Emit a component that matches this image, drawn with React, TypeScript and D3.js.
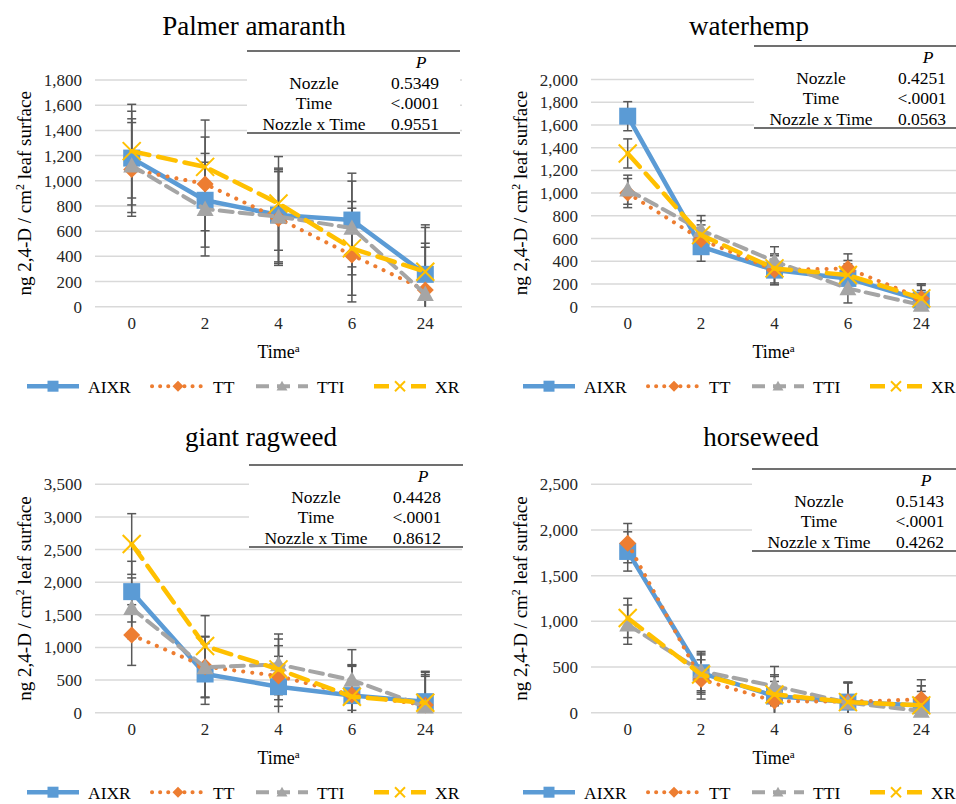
import React from "react";
import * as d3 from "d3";

// ---------- data ----------
const TIMES = ["0", "2", "4", "6", "24"];
const NOZZLES = ["AIXR", "TT", "TTI", "XR"];
const EFFECTS = ["Nozzle", "Time", "Nozzle x Time"];

const PALMER_AIXR = [1180, 845, 728, 688, 257];
const PALMER_TT = [1090, 975, 700, 410, 132];
const PALMER_TTI = [1120, 775, 715, 625, 100];
const PALMER_XR = [1235, 1110, 820, 463, 278];
const PALMER_ERR = [372, 372, 372, 372, 372];
const PALMER_P = ["0.5349", "<.0001", "0.9551"];
const PALMER_TICKS = [0, 200, 400, 600, 800, 1000, 1200, 1400, 1600, 1800];

const WATER_AIXR = [1677, 528, 322, 249, 59];
const WATER_TT = [1000, 592, 322, 337, 73];
const WATER_TTI = [1030, 674, 400, 161, 15];
const WATER_XR = [1349, 630, 337, 279, 73];
const WATER_ERR = [128, 128, 128, 128, 128];
const WATER_P = ["0.4251", "<.0001", "0.0563"];
const WATER_TICKS = [0, 200, 400, 600, 800, 1000, 1200, 1400, 1600, 1800, 2000];

const RAG_AIXR = [1855, 593, 399, 262, 169];
const RAG_TT = [1190, 705, 562, 271, 118];
const RAG_TTI = [1600, 695, 741, 501, 92];
const RAG_XR = [2585, 1022, 664, 245, 153];
const RAG_ERR = [465, 465, 465, 465, 465];
const RAG_P = ["0.4428", "<.0001", "0.8612"];
const RAG_TICKS = [0, 500, 1000, 1500, 2000, 2500, 3000, 3500];

const HORSE_AIXR = [1765, 437, 182, 116, 80];
const HORSE_TT = [1856, 364, 127, 120, 146];
const HORSE_TTI = [964, 455, 291, 110, 18];
const HORSE_XR = [1037, 418, 200, 116, 80];
const HORSE_ERR = [215, 215, 215, 215, 215];
const HORSE_P = ["0.5143", "<.0001", "0.4262"];
const HORSE_TICKS = [0, 500, 1000, 1500, 2000, 2500];

// ---------- styles ----------
const COLORS = ["#5B9BD5", "#ED7D31", "#A5A5A5", "#FFC000"];
const DASH = [undefined, "0.1 9", "13 7", "18 9"];
const WIDTHS = [4.5, 4, 4, 4.5];
const FONT = "'Liberation Serif', 'Times New Roman', serif";

const panels = [
  {
    title: "Palmer amaranth", series: [PALMER_AIXR, PALMER_TT, PALMER_TTI, PALMER_XR], err: PALMER_ERR,
    p: PALMER_P, ticks: PALMER_TICKS,
    layout: { left: 95, right: 462, top: 80, bottom: 306.7, titleX: 254, titleY: 35, tL: 247, tR: 460, tT: 51 },
  },
  {
    title: "waterhemp", series: [WATER_AIXR, WATER_TT, WATER_TTI, WATER_XR], err: WATER_ERR,
    p: WATER_P, ticks: WATER_TICKS,
    layout: { left: 591, right: 958, top: 79.5, bottom: 306.7, titleX: 749, titleY: 35, tL: 754, tR: 956, tT: 46 },
  },
  {
    title: "giant ragweed", series: [RAG_AIXR, RAG_TT, RAG_TTI, RAG_XR], err: RAG_ERR,
    p: RAG_P, ticks: RAG_TICKS,
    layout: { left: 95, right: 462, top: 484.3, bottom: 712.7, titleX: 261, titleY: 446, tL: 249, tR: 463, tT: 465 },
  },
  {
    title: "horseweed", series: [HORSE_AIXR, HORSE_TT, HORSE_TTI, HORSE_XR], err: HORSE_ERR,
    p: HORSE_P, ticks: HORSE_TICKS,
    layout: { left: 591, right: 958, top: 484.3, bottom: 712.7, titleX: 761, titleY: 446, tL: 752, tR: 956, tT: 469 },
  },
];

function Marker({ kind, x, y, s }: { kind: number; x: number; y: number; s: number }) {
  const c = COLORS[kind];
  const h = s / 2;
  if (kind === 0) return <rect x={x - h} y={y - h} width={s} height={s} fill={c} />;
  if (kind === 1)
    return <polygon points={`${x},${y - h} ${x + h},${y} ${x},${y + h} ${x - h},${y}`} fill={c} />;
  if (kind === 2)
    return <polygon points={`${x},${y - h} ${x + h},${y + h * 0.8} ${x - h},${y + h * 0.8}`} fill={c} />;
  return (
    <g stroke={c} strokeWidth={2}>
      <line x1={x - h} y1={y - h} x2={x + h} y2={y + h} />
      <line x1={x - h} y1={y + h} x2={x + h} y2={y - h} />
    </g>
  );
}

function Panel({ cfg }: { cfg: (typeof panels)[number] }) {
  const L = cfg.layout;
  const x = d3.scaleBand<string>().domain(TIMES).range([L.left, L.right]).padding(0);
  const yMax = cfg.ticks[cfg.ticks.length - 1];
  const y = d3.scaleLinear().domain([0, yMax]).range([L.bottom, L.top]);
  const cx = (t: string) => (x(t) as number) + x.bandwidth() / 2;
  const line = d3
    .line<number>()
    .x((_, i) => cx(TIMES[i]))
    .y((d) => y(d));
  const tb = L.tT + 82;
  const col1 = L.tL + 67;
  const col2 = L.tL + 168;
  const midX = (L.left + Math.min(L.right, 956)) / 2;
  const legendXs = [27, 152, 256, 374].map((v) => v + L.left - 95);
  const legendY = L.bottom + 79.5;

  return (
    <g fontFamily={FONT}>
      <text x={L.titleX} y={L.titleY} fontSize={27} textAnchor="middle" fill="#000">
        {cfg.title}
      </text>
      {/* gridlines */}
      {cfg.ticks.map((t) => (
        <line key={t} x1={L.left} x2={L.right} y1={y(t)} y2={y(t)} stroke="#D9D9D9" strokeWidth={1.5} />
      ))}
      {/* y tick labels */}
      {cfg.ticks.map((t) => (
        <text key={"l" + t} x={L.left - 13} y={y(t) + 6} fontSize={17} textAnchor="end" fill="#262626">
          {d3.format(",")(t)}
        </text>
      ))}
      {/* x tick labels */}
      {TIMES.map((t) => (
        <text key={"x" + t} x={cx(t)} y={L.bottom + 22} fontSize={17} textAnchor="middle" fill="#262626">
          {t}
        </text>
      ))}
      {/* axis titles */}
      <text x={midX} y={L.bottom + 51} fontSize={18} textAnchor="middle" fill="#000">
        Time<tspan dy={-6} fontSize={11}>a</tspan>
      </text>
      <text
        transform={`translate(${L.left - 64},${(L.top + L.bottom) / 2}) rotate(-90)`}
        fontSize={19}
        textAnchor="middle"
        fill="#000"
      >
        ng 2,4-D / cm<tspan dy={-7} fontSize={12}>2</tspan>
        <tspan dy={7}> leaf surface</tspan>
      </text>
      {/* table */}
      <rect x={L.tL} y={L.tT} width={L.tR - L.tL} height={tb - L.tT} fill="#fff" />
      <line x1={L.tL} x2={L.tR} y1={L.tT} y2={L.tT} stroke="#404040" strokeWidth={1.5} />
      <line x1={L.tL} x2={L.tR} y1={tb} y2={tb} stroke="#404040" strokeWidth={1.5} />
      <text x={col2 + 6} y={L.tT + 17} fontSize={17.5} fontStyle="italic" textAnchor="middle" fill="#000">
        P
      </text>
      {EFFECTS.map((e, i) => (
        <g key={e}>
          <text x={col1} y={L.tT + 37.5 + i * 20.5} fontSize={17.5} textAnchor="middle" fill="#000">
            {e}
          </text>
          <text x={col2} y={L.tT + 37.5 + i * 20.5} fontSize={17.5} textAnchor="middle" fill="#000">
            {cfg.p[i]}
          </text>
        </g>
      ))}
      {/* error bars */}
      {cfg.series.map((vals, si) =>
        vals.map((v, i) => {
          const e = cfg.err[i];
          const yt = y(Math.min(yMax, v + e));
          const yb = y(Math.max(0, v - e));
          const px = cx(TIMES[i]);
          return (
            <g key={`e${si}-${i}`} stroke="#595959" strokeWidth={1.5}>
              <line x1={px} x2={px} y1={yt} y2={yb} />
              <line x1={px - 4.5} x2={px + 4.5} y1={yt} y2={yt} />
              {v - e > 0 && <line x1={px - 4.5} x2={px + 4.5} y1={yb} y2={yb} />}
            </g>
          );
        })
      )}
      {/* series */}
      {cfg.series.map((vals, si) => (
        <g key={"s" + si}>
          <path
            d={line(vals) as string}
            fill="none"
            stroke={COLORS[si]}
            strokeWidth={WIDTHS[si]}
            strokeDasharray={DASH[si]}
            strokeLinecap="round"
            strokeLinejoin="round"
          />
          {vals.map((v, i) => (
            <Marker key={i} kind={si} x={cx(TIMES[i])} y={y(v)} s={si === 3 ? 18 : 17} />
          ))}
        </g>
      ))}
      {/* legend */}
      {NOZZLES.map((n, si) => {
        const lx = legendXs[si];
        return (
          <g key={"lg" + n}>
            <line
              x1={lx}
              x2={lx + 52}
              y1={legendY}
              y2={legendY}
              stroke={COLORS[si]}
              strokeWidth={WIDTHS[si]}
              strokeDasharray={si === 1 ? "0.1 8" : si === 2 ? "13 8" : si === 3 ? "15 22" : undefined}
              strokeLinecap={si === 1 ? "round" : "butt"}
            />
            <Marker kind={si} x={lx + 26} y={legendY} s={si === 3 ? 10 : 11} />
            <text x={lx + 61} y={legendY + 6.5} fontSize={17.5} fill="#000">
              {n}
            </text>
          </g>
        );
      })}
    </g>
  );
}

export default function App() {
  return (
    <svg
      width={956}
      height={804}
      style={{ position: "absolute", left: 0, top: 0, background: "#fff" }}
    >
      <rect width={956} height={804} fill="#fff" />
      {panels.map((p) => (
        <Panel key={p.title} cfg={p} />
      ))}
    </svg>
  );
}
